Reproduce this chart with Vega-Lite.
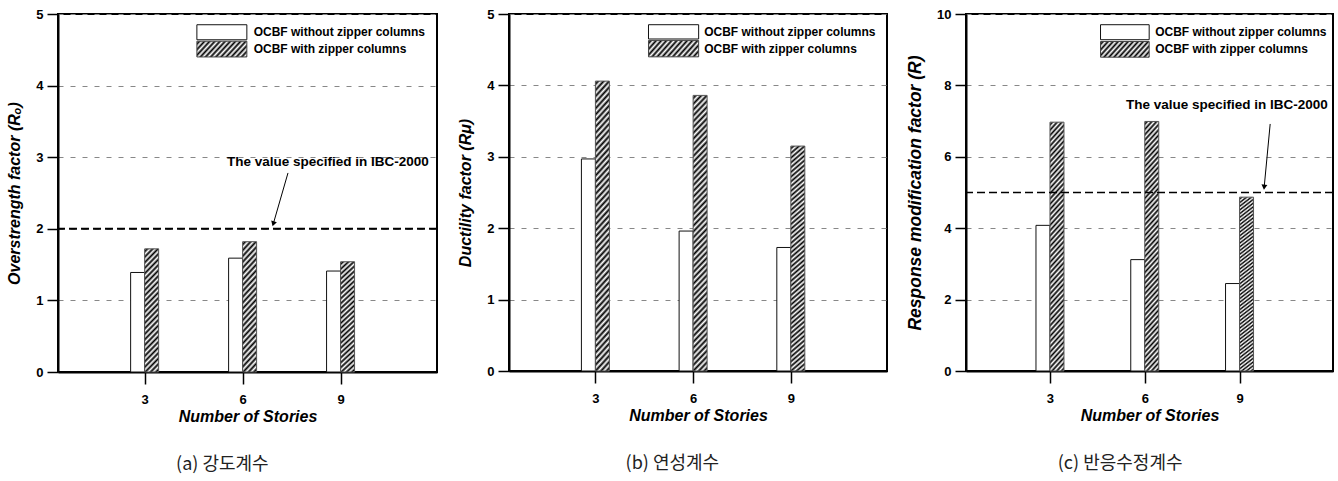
{
"$schema": "https://vega.github.io/schema/vega-lite/v6.json",
"background": "white",
"padding": {"left": 5, "top": 7, "right": 0, "bottom": 0},
"spacing": 17,
"datasets": {
"a": [{"stories":3,"series":"without","value":1.39},{"stories":3,"series":"with","value":1.72},{"stories":6,"series":"without","value":1.59},{"stories":6,"series":"with","value":1.82},{"stories":9,"series":"without","value":1.41},{"stories":9,"series":"with","value":1.54}],
"b": [{"stories":3,"series":"without","value":2.97},{"stories":3,"series":"with","value":4.06},{"stories":6,"series":"without","value":1.96},{"stories":6,"series":"with","value":3.86},{"stories":9,"series":"without","value":1.73},{"stories":9,"series":"with","value":3.15}],
"c": [{"stories":3,"series":"without","value":4.08},{"stories":3,"series":"with","value":6.97},{"stories":6,"series":"without","value":3.12},{"stories":6,"series":"with","value":6.99},{"stories":9,"series":"without","value":2.45},{"stories":9,"series":"with","value":4.87}]
},
"hconcat": [
{
"width": 379, "height": 358,
"title": {"text": "(a) 강도계수", "orient": "bottom", "frame": "bounds", "anchor": "middle", "offset": 32, "font": "Noto Sans CJK KR", "fontSize": 18, "fontWeight": "normal", "color": "#222"},
"data": {"name": "a"},
"layer": [
{"transform":[{"filter":"datum.series == 'without'"}],
 "mark":{"type":"bar","orient":"vertical","width":14,"xOffset":-7,"fill":"white","stroke":"#111","strokeWidth":1},
 "encoding":{"x":{"field":"stories","type":"quantitative","scale":{"domain":[0.5,11.8],"nice":false,"zero":false},"axis":{"values":[3,6,9],"title":"Number of Stories","grid":false}},
 "y":{"field":"value","type":"quantitative","scale":{"domain":[0,5],"nice":false},"axis":{"values":[0,1,2,3,4,5],"format":"d","title":"Overstrength factor (Rₒ)"}}}},
{"transform":[{"filter":"datum.series == 'with'"}],
 "mark":{"type":"bar","orient":"vertical","width":14,"xOffset":7,"stroke":"#555","strokeWidth":1,
 "fill":{"gradient":"linear","x1":0,"y1":0,"x2":0.129,"y2":1.102,"stops":[{"offset":0,"color":"#fff"},{"offset":0.02,"color":"#000"},{"offset":0.04,"color":"#fff"},{"offset":0.06,"color":"#000"},{"offset":0.08,"color":"#fff"},{"offset":0.1,"color":"#000"},{"offset":0.12,"color":"#fff"},{"offset":0.14,"color":"#000"},{"offset":0.16,"color":"#fff"},{"offset":0.18,"color":"#000"},{"offset":0.2,"color":"#fff"},{"offset":0.22,"color":"#000"},{"offset":0.24,"color":"#fff"},{"offset":0.26,"color":"#000"},{"offset":0.28,"color":"#fff"},{"offset":0.3,"color":"#000"},{"offset":0.32,"color":"#fff"},{"offset":0.34,"color":"#000"},{"offset":0.36,"color":"#fff"},{"offset":0.38,"color":"#000"},{"offset":0.4,"color":"#fff"},{"offset":0.42,"color":"#000"},{"offset":0.44,"color":"#fff"},{"offset":0.46,"color":"#000"},{"offset":0.48,"color":"#fff"},{"offset":0.5,"color":"#000"},{"offset":0.52,"color":"#fff"},{"offset":0.54,"color":"#000"},{"offset":0.56,"color":"#fff"},{"offset":0.58,"color":"#000"},{"offset":0.6,"color":"#fff"},{"offset":0.62,"color":"#000"},{"offset":0.64,"color":"#fff"},{"offset":0.66,"color":"#000"},{"offset":0.68,"color":"#fff"},{"offset":0.7,"color":"#000"},{"offset":0.72,"color":"#fff"},{"offset":0.74,"color":"#000"},{"offset":0.76,"color":"#fff"},{"offset":0.78,"color":"#000"},{"offset":0.8,"color":"#fff"},{"offset":0.82,"color":"#000"},{"offset":0.84,"color":"#fff"},{"offset":0.86,"color":"#000"},{"offset":0.88,"color":"#fff"},{"offset":0.9,"color":"#000"},{"offset":0.92,"color":"#fff"},{"offset":0.94,"color":"#000"},{"offset":0.96,"color":"#fff"},{"offset":0.98,"color":"#000"},{"offset":1,"color":"#fff"}]}},
 "encoding":{"x":{"field":"stories","type":"quantitative"},"y":{"field":"value","type":"quantitative"}}},
{"data":{"values":[{}]},"mark":{"type":"rule","color":"black","strokeWidth":2,"strokeDash":[8,4]},"encoding":{"y":{"datum":2}}},
{"data":{"values":[{}]},"mark":{"type":"text","text":"The value specified in IBC-2000","align":"center","baseline":"middle","font":"Liberation Sans","fontWeight":"bold","fontSize":13.5,"color":"black"},"encoding":{"x":{"datum":8.61},"y":{"datum":2.93}}},
{"data":{"values":[{}]},"mark":{"type":"rule","color":"black","strokeWidth":1},"encoding":{"x":{"datum":7.39},"y":{"datum":2.78},"x2":{"datum":6.94},"y2":{"datum":2.07}}},
{"data":{"values":[{}]},"mark":{"type":"point","shape":"triangle-down","filled":true,"color":"black","size":35,"angle":16.5,"opacity":1},"encoding":{"x":{"datum":6.94},"y":{"datum":2.07}}},
{"data":{"values":[{}]},"mark":{"type":"rect","fill":"white","stroke":"#111","strokeWidth":1},"encoding":{"x":{"datum":4.6},"x2":{"datum":6.13},"y":{"datum":4.85},"y2":{"datum":4.64}}},
{"data":{"values":[{}]},"mark":{"type":"rect","stroke":"#444","strokeWidth":1,
 "fill":{"gradient":"linear","x1":0,"y1":0,"x2":1.19,"y2":0.345,"stops":[{"offset":0,"color":"#fff"},{"offset":0.04,"color":"#000"},{"offset":0.08,"color":"#fff"},{"offset":0.12,"color":"#000"},{"offset":0.16,"color":"#fff"},{"offset":0.2,"color":"#000"},{"offset":0.24,"color":"#fff"},{"offset":0.28,"color":"#000"},{"offset":0.32,"color":"#fff"},{"offset":0.36,"color":"#000"},{"offset":0.4,"color":"#fff"},{"offset":0.44,"color":"#000"},{"offset":0.48,"color":"#fff"},{"offset":0.52,"color":"#000"},{"offset":0.56,"color":"#fff"},{"offset":0.6,"color":"#000"},{"offset":0.64,"color":"#fff"},{"offset":0.68,"color":"#000"},{"offset":0.72,"color":"#fff"},{"offset":0.76,"color":"#000"},{"offset":0.8,"color":"#fff"},{"offset":0.84,"color":"#000"},{"offset":0.88,"color":"#fff"},{"offset":0.92,"color":"#000"},{"offset":0.96,"color":"#fff"},{"offset":1,"color":"#000"}]}},
 "encoding":{"x":{"datum":4.6},"x2":{"datum":6.13},"y":{"datum":4.62},"y2":{"datum":4.40}}},
{"data":{"values":[{}]},"mark":{"type":"text","text":"OCBF without zipper columns","align":"left","baseline":"middle","font":"Liberation Sans","fontWeight":"bold","fontSize":12,"color":"black"},"encoding":{"x":{"datum":6.34},"y":{"datum":4.745}}},
{"data":{"values":[{}]},"mark":{"type":"text","text":"OCBF with zipper columns","align":"left","baseline":"middle","font":"Liberation Sans","fontWeight":"bold","fontSize":12,"color":"black"},"encoding":{"x":{"datum":6.34},"y":{"datum":4.51}}}
]
},
{
"width": 378, "height": 357,
"title": {"text": "(b) 연성계수", "orient": "bottom", "frame": "bounds", "anchor": "middle", "offset": 32, "font": "Noto Sans CJK KR", "fontSize": 18, "fontWeight": "normal", "color": "#222"},
"data": {"name": "b"},
"layer": [
{"transform":[{"filter":"datum.series == 'without'"}],
 "mark":{"type":"bar","orient":"vertical","width":14,"xOffset":-7,"fill":"white","stroke":"#111","strokeWidth":1},
 "encoding":{"x":{"field":"stories","type":"quantitative","scale":{"domain":[0.5,11.8],"nice":false,"zero":false},"axis":{"values":[3,6,9],"title":"Number of Stories","grid":false}},
 "y":{"field":"value","type":"quantitative","scale":{"domain":[0,5],"nice":false},"axis":{"values":[0,1,2,3,4,5],"format":"d","title":"Ductility factor (Rμ)"}}}},
{"transform":[{"filter":"datum.series == 'with'"}],
 "mark":{"type":"bar","orient":"vertical","width":14,"xOffset":7,"stroke":"#555","strokeWidth":1,
 "fill":{"gradient":"linear","x1":0,"y1":0,"x2":0.056,"y2":1.05,"stops":[{"offset":0,"color":"#fff"},{"offset":0.01,"color":"#000"},{"offset":0.02,"color":"#fff"},{"offset":0.03,"color":"#000"},{"offset":0.04,"color":"#fff"},{"offset":0.05,"color":"#000"},{"offset":0.06,"color":"#fff"},{"offset":0.07,"color":"#000"},{"offset":0.08,"color":"#fff"},{"offset":0.09,"color":"#000"},{"offset":0.1,"color":"#fff"},{"offset":0.11,"color":"#000"},{"offset":0.12,"color":"#fff"},{"offset":0.13,"color":"#000"},{"offset":0.14,"color":"#fff"},{"offset":0.15,"color":"#000"},{"offset":0.16,"color":"#fff"},{"offset":0.17,"color":"#000"},{"offset":0.18,"color":"#fff"},{"offset":0.19,"color":"#000"},{"offset":0.2,"color":"#fff"},{"offset":0.21,"color":"#000"},{"offset":0.22,"color":"#fff"},{"offset":0.23,"color":"#000"},{"offset":0.24,"color":"#fff"},{"offset":0.25,"color":"#000"},{"offset":0.26,"color":"#fff"},{"offset":0.27,"color":"#000"},{"offset":0.28,"color":"#fff"},{"offset":0.29,"color":"#000"},{"offset":0.3,"color":"#fff"},{"offset":0.31,"color":"#000"},{"offset":0.32,"color":"#fff"},{"offset":0.33,"color":"#000"},{"offset":0.34,"color":"#fff"},{"offset":0.35,"color":"#000"},{"offset":0.36,"color":"#fff"},{"offset":0.37,"color":"#000"},{"offset":0.38,"color":"#fff"},{"offset":0.39,"color":"#000"},{"offset":0.4,"color":"#fff"},{"offset":0.41,"color":"#000"},{"offset":0.42,"color":"#fff"},{"offset":0.43,"color":"#000"},{"offset":0.44,"color":"#fff"},{"offset":0.45,"color":"#000"},{"offset":0.46,"color":"#fff"},{"offset":0.47,"color":"#000"},{"offset":0.48,"color":"#fff"},{"offset":0.49,"color":"#000"},{"offset":0.5,"color":"#fff"},{"offset":0.51,"color":"#000"},{"offset":0.52,"color":"#fff"},{"offset":0.53,"color":"#000"},{"offset":0.54,"color":"#fff"},{"offset":0.55,"color":"#000"},{"offset":0.56,"color":"#fff"},{"offset":0.57,"color":"#000"},{"offset":0.58,"color":"#fff"},{"offset":0.59,"color":"#000"},{"offset":0.6,"color":"#fff"},{"offset":0.61,"color":"#000"},{"offset":0.62,"color":"#fff"},{"offset":0.63,"color":"#000"},{"offset":0.64,"color":"#fff"},{"offset":0.65,"color":"#000"},{"offset":0.66,"color":"#fff"},{"offset":0.67,"color":"#000"},{"offset":0.68,"color":"#fff"},{"offset":0.69,"color":"#000"},{"offset":0.7,"color":"#fff"},{"offset":0.71,"color":"#000"},{"offset":0.72,"color":"#fff"},{"offset":0.73,"color":"#000"},{"offset":0.74,"color":"#fff"},{"offset":0.75,"color":"#000"},{"offset":0.76,"color":"#fff"},{"offset":0.77,"color":"#000"},{"offset":0.78,"color":"#fff"},{"offset":0.79,"color":"#000"},{"offset":0.8,"color":"#fff"},{"offset":0.81,"color":"#000"},{"offset":0.82,"color":"#fff"},{"offset":0.83,"color":"#000"},{"offset":0.84,"color":"#fff"},{"offset":0.85,"color":"#000"},{"offset":0.86,"color":"#fff"},{"offset":0.87,"color":"#000"},{"offset":0.88,"color":"#fff"},{"offset":0.89,"color":"#000"},{"offset":0.9,"color":"#fff"},{"offset":0.91,"color":"#000"},{"offset":0.92,"color":"#fff"},{"offset":0.93,"color":"#000"},{"offset":0.94,"color":"#fff"},{"offset":0.95,"color":"#000"},{"offset":0.96,"color":"#fff"},{"offset":0.97,"color":"#000"},{"offset":0.98,"color":"#fff"},{"offset":0.99,"color":"#000"},{"offset":1,"color":"#fff"}]}},
 "encoding":{"x":{"field":"stories","type":"quantitative"},"y":{"field":"value","type":"quantitative"}}},
{"data":{"values":[{}]},"mark":{"type":"rect","fill":"white","stroke":"#111","strokeWidth":1},"encoding":{"x":{"datum":4.63},"x2":{"datum":6.17},"y":{"datum":4.85},"y2":{"datum":4.65}}},
{"data":{"values":[{}]},"mark":{"type":"rect","stroke":"#444","strokeWidth":1,
 "fill":{"gradient":"linear","x1":0,"y1":0,"x2":1.19,"y2":0.345,"stops":[{"offset":0,"color":"#fff"},{"offset":0.04,"color":"#000"},{"offset":0.08,"color":"#fff"},{"offset":0.12,"color":"#000"},{"offset":0.16,"color":"#fff"},{"offset":0.2,"color":"#000"},{"offset":0.24,"color":"#fff"},{"offset":0.28,"color":"#000"},{"offset":0.32,"color":"#fff"},{"offset":0.36,"color":"#000"},{"offset":0.4,"color":"#fff"},{"offset":0.44,"color":"#000"},{"offset":0.48,"color":"#fff"},{"offset":0.52,"color":"#000"},{"offset":0.56,"color":"#fff"},{"offset":0.6,"color":"#000"},{"offset":0.64,"color":"#fff"},{"offset":0.68,"color":"#000"},{"offset":0.72,"color":"#fff"},{"offset":0.76,"color":"#000"},{"offset":0.8,"color":"#fff"},{"offset":0.84,"color":"#000"},{"offset":0.88,"color":"#fff"},{"offset":0.92,"color":"#000"},{"offset":0.96,"color":"#fff"},{"offset":1,"color":"#000"}]}},
 "encoding":{"x":{"datum":4.63},"x2":{"datum":6.17},"y":{"datum":4.63},"y2":{"datum":4.40}}},
{"data":{"values":[{}]},"mark":{"type":"text","text":"OCBF without zipper columns","align":"left","baseline":"middle","font":"Liberation Sans","fontWeight":"bold","fontSize":12,"color":"black"},"encoding":{"x":{"datum":6.34},"y":{"datum":4.75}}},
{"data":{"values":[{}]},"mark":{"type":"text","text":"OCBF with zipper columns","align":"left","baseline":"middle","font":"Liberation Sans","fontWeight":"bold","fontSize":12,"color":"black"},"encoding":{"x":{"datum":6.34},"y":{"datum":4.515}}}
]
},
{
"width": 367, "height": 357,
"title": {"text": "(c) 반응수정계수", "orient": "bottom", "frame": "bounds", "anchor": "middle", "offset": 32, "font": "Noto Sans CJK KR", "fontSize": 18, "fontWeight": "normal", "color": "#222"},
"data": {"name": "c"},
"layer": [
{"transform":[{"filter":"datum.series == 'without'"}],
 "mark":{"type":"bar","orient":"vertical","width":14,"xOffset":-7,"fill":"white","stroke":"#111","strokeWidth":1},
 "encoding":{"x":{"field":"stories","type":"quantitative","scale":{"domain":[0.5,11.8],"nice":false,"zero":false},"axis":{"values":[3,6,9],"title":"Number of Stories","grid":false}},
 "y":{"field":"value","type":"quantitative","scale":{"domain":[0,10],"nice":false},"axis":{"values":[0,2,4,6,8,10],"format":"d","title":"Response modification factor (R)","titleFontSize":17.5,"titlePadding":12}}}},
{"transform":[{"filter":"datum.series == 'with'"}],
 "mark":{"type":"bar","orient":"vertical","width":14,"xOffset":7,"stroke":"#555","strokeWidth":1,
 "fill":{"gradient":"linear","x1":0,"y1":0,"x2":0.066,"y2":1.058,"stops":[{"offset":0,"color":"#fff"},{"offset":0.01,"color":"#000"},{"offset":0.02,"color":"#fff"},{"offset":0.03,"color":"#000"},{"offset":0.04,"color":"#fff"},{"offset":0.05,"color":"#000"},{"offset":0.06,"color":"#fff"},{"offset":0.07,"color":"#000"},{"offset":0.08,"color":"#fff"},{"offset":0.09,"color":"#000"},{"offset":0.1,"color":"#fff"},{"offset":0.11,"color":"#000"},{"offset":0.12,"color":"#fff"},{"offset":0.13,"color":"#000"},{"offset":0.14,"color":"#fff"},{"offset":0.15,"color":"#000"},{"offset":0.16,"color":"#fff"},{"offset":0.17,"color":"#000"},{"offset":0.18,"color":"#fff"},{"offset":0.19,"color":"#000"},{"offset":0.2,"color":"#fff"},{"offset":0.21,"color":"#000"},{"offset":0.22,"color":"#fff"},{"offset":0.23,"color":"#000"},{"offset":0.24,"color":"#fff"},{"offset":0.25,"color":"#000"},{"offset":0.26,"color":"#fff"},{"offset":0.27,"color":"#000"},{"offset":0.28,"color":"#fff"},{"offset":0.29,"color":"#000"},{"offset":0.3,"color":"#fff"},{"offset":0.31,"color":"#000"},{"offset":0.32,"color":"#fff"},{"offset":0.33,"color":"#000"},{"offset":0.34,"color":"#fff"},{"offset":0.35,"color":"#000"},{"offset":0.36,"color":"#fff"},{"offset":0.37,"color":"#000"},{"offset":0.38,"color":"#fff"},{"offset":0.39,"color":"#000"},{"offset":0.4,"color":"#fff"},{"offset":0.41,"color":"#000"},{"offset":0.42,"color":"#fff"},{"offset":0.43,"color":"#000"},{"offset":0.44,"color":"#fff"},{"offset":0.45,"color":"#000"},{"offset":0.46,"color":"#fff"},{"offset":0.47,"color":"#000"},{"offset":0.48,"color":"#fff"},{"offset":0.49,"color":"#000"},{"offset":0.5,"color":"#fff"},{"offset":0.51,"color":"#000"},{"offset":0.52,"color":"#fff"},{"offset":0.53,"color":"#000"},{"offset":0.54,"color":"#fff"},{"offset":0.55,"color":"#000"},{"offset":0.56,"color":"#fff"},{"offset":0.57,"color":"#000"},{"offset":0.58,"color":"#fff"},{"offset":0.59,"color":"#000"},{"offset":0.6,"color":"#fff"},{"offset":0.61,"color":"#000"},{"offset":0.62,"color":"#fff"},{"offset":0.63,"color":"#000"},{"offset":0.64,"color":"#fff"},{"offset":0.65,"color":"#000"},{"offset":0.66,"color":"#fff"},{"offset":0.67,"color":"#000"},{"offset":0.68,"color":"#fff"},{"offset":0.69,"color":"#000"},{"offset":0.7,"color":"#fff"},{"offset":0.71,"color":"#000"},{"offset":0.72,"color":"#fff"},{"offset":0.73,"color":"#000"},{"offset":0.74,"color":"#fff"},{"offset":0.75,"color":"#000"},{"offset":0.76,"color":"#fff"},{"offset":0.77,"color":"#000"},{"offset":0.78,"color":"#fff"},{"offset":0.79,"color":"#000"},{"offset":0.8,"color":"#fff"},{"offset":0.81,"color":"#000"},{"offset":0.82,"color":"#fff"},{"offset":0.83,"color":"#000"},{"offset":0.84,"color":"#fff"},{"offset":0.85,"color":"#000"},{"offset":0.86,"color":"#fff"},{"offset":0.87,"color":"#000"},{"offset":0.88,"color":"#fff"},{"offset":0.89,"color":"#000"},{"offset":0.9,"color":"#fff"},{"offset":0.91,"color":"#000"},{"offset":0.92,"color":"#fff"},{"offset":0.93,"color":"#000"},{"offset":0.94,"color":"#fff"},{"offset":0.95,"color":"#000"},{"offset":0.96,"color":"#fff"},{"offset":0.97,"color":"#000"},{"offset":0.98,"color":"#fff"},{"offset":0.99,"color":"#000"},{"offset":1,"color":"#fff"}]}},
 "encoding":{"x":{"field":"stories","type":"quantitative"},"y":{"field":"value","type":"quantitative"}}},
{"data":{"values":[{}]},"mark":{"type":"rule","color":"black","strokeWidth":1.5,"strokeDash":[8,4]},"encoding":{"y":{"datum":5}}},
{"data":{"values":[{}]},"mark":{"type":"text","text":"The value specified in IBC-2000","align":"center","baseline":"middle","font":"Liberation Sans","fontWeight":"bold","fontSize":13.5,"color":"black"},"encoding":{"x":{"datum":8.6},"y":{"datum":7.45}}},
{"data":{"values":[{}]},"mark":{"type":"rule","color":"black","strokeWidth":1},"encoding":{"x":{"datum":9.97},"y":{"datum":6.92},"x2":{"datum":9.78},"y2":{"datum":5.15}}},
{"data":{"values":[{}]},"mark":{"type":"point","shape":"triangle-down","filled":true,"color":"black","size":35,"angle":5.7,"opacity":1},"encoding":{"x":{"datum":9.78},"y":{"datum":5.15}}},
{"data":{"values":[{}]},"mark":{"type":"rect","fill":"white","stroke":"#111","strokeWidth":1},"encoding":{"x":{"datum":4.6},"x2":{"datum":6.14},"y":{"datum":9.7},"y2":{"datum":9.28}}},
{"data":{"values":[{}]},"mark":{"type":"rect","stroke":"#444","strokeWidth":1,
 "fill":{"gradient":"linear","x1":0,"y1":0,"x2":1.19,"y2":0.345,"stops":[{"offset":0,"color":"#fff"},{"offset":0.04,"color":"#000"},{"offset":0.08,"color":"#fff"},{"offset":0.12,"color":"#000"},{"offset":0.16,"color":"#fff"},{"offset":0.2,"color":"#000"},{"offset":0.24,"color":"#fff"},{"offset":0.28,"color":"#000"},{"offset":0.32,"color":"#fff"},{"offset":0.36,"color":"#000"},{"offset":0.4,"color":"#fff"},{"offset":0.44,"color":"#000"},{"offset":0.48,"color":"#fff"},{"offset":0.52,"color":"#000"},{"offset":0.56,"color":"#fff"},{"offset":0.6,"color":"#000"},{"offset":0.64,"color":"#fff"},{"offset":0.68,"color":"#000"},{"offset":0.72,"color":"#fff"},{"offset":0.76,"color":"#000"},{"offset":0.8,"color":"#fff"},{"offset":0.84,"color":"#000"},{"offset":0.88,"color":"#fff"},{"offset":0.92,"color":"#000"},{"offset":0.96,"color":"#fff"},{"offset":1,"color":"#000"}]}},
 "encoding":{"x":{"datum":4.6},"x2":{"datum":6.14},"y":{"datum":9.23},"y2":{"datum":8.79}}},
{"data":{"values":[{}]},"mark":{"type":"text","text":"OCBF without zipper columns","align":"left","baseline":"middle","font":"Liberation Sans","fontWeight":"bold","fontSize":12,"color":"black"},"encoding":{"x":{"datum":6.33},"y":{"datum":9.49}}},
{"data":{"values":[{}]},"mark":{"type":"text","text":"OCBF with zipper columns","align":"left","baseline":"middle","font":"Liberation Sans","fontWeight":"bold","fontSize":12,"color":"black"},"encoding":{"x":{"datum":6.33},"y":{"datum":9.01}}}
]
}
],
"config": {
"view": {"stroke": "black", "strokeWidth": 2},
"axis": {"domainColor": "black", "domainWidth": 2, "tickColor": "black", "tickWidth": 1.5, "tickSize": 11, "labelFont": "Liberation Sans", "labelFontWeight": "bold", "labelFontSize": 13, "labelColor": "black", "titleFont": "Liberation Sans", "titleFontWeight": "bold", "titleFontStyle": "italic", "titleFontSize": 16, "titleColor": "black", "gridColor": "#888", "gridDash": [5, 7], "gridWidth": 1},
"axisX": {"tickSize": 12, "labelPadding": 9, "titlePadding": 2, "grid": false},
"axisY": {"labelPadding": 4, "titlePadding": 13}
}
}
